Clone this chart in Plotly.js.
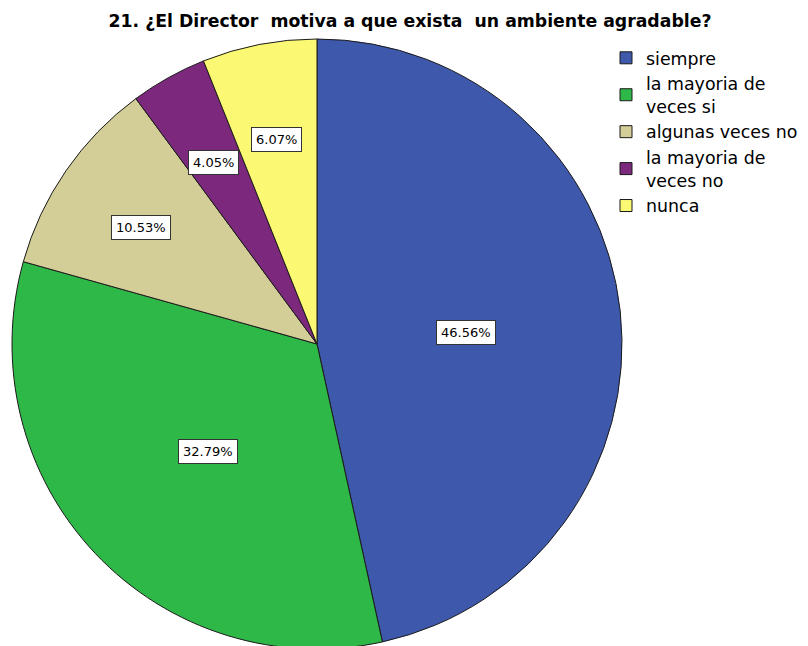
<!DOCTYPE html>
<html>
<head>
<meta charset="utf-8">
<script src="https://cdn.plot.ly/plotly-3.0.1.min.js"></script>
<style>html,body{margin:0;padding:0;overflow:hidden;background:#fff}</style>
</head>
<body>
<div id="chart"></div>
<script>
const categories = ["siempre", "la mayoria de<br>veces si", "algunas veces no", "la mayoria de<br>veces no", "nunca"];
const values = [46.56, 32.79, 10.53, 4.05, 6.07];
const valueLabels = ["46.56%", "32.79%", "10.53%", "4.05%", "6.07%"];
const colors = ["#3e58ac", "#2eb848", "#d3ce97", "#7c287d", "#fbf873"];

const W = 808, H = 652;
const cx = 317, cy = 344, R = 305;
const FONT = "DejaVu Sans, Arial, sans-serif";

const total = values.reduce((a, b) => a + b, 0);
const annotations = [];
let cum = 0;
values.forEach((v, i) => {
  const mid = (cum + v / 2) / total * 2 * Math.PI;
  cum += v;
  const rf = v >= 20 ? 0.49 : 0.70;
  const px = cx + rf * R * Math.sin(mid);
  const py = cy - rf * R * Math.cos(mid) + 5;
  annotations.push({
    xref: "paper", yref: "paper",
    x: px / W, y: 1 - py / H,
    xanchor: "center", yanchor: "middle",
    text: valueLabels[i], showarrow: false,
    font: {family: FONT, size: 13, color: "#000"},
    bgcolor: "#ffffff", bordercolor: "#333333", borderwidth: 1, borderpad: 4
  });
});

const trace = {
  type: "pie",
  labels: categories,
  values: values,
  sort: false,
  direction: "clockwise",
  rotation: 0,
  textinfo: "none",
  hoverinfo: "none",
  marker: {colors: colors, line: {color: "#1a1a1a", width: 1}},
  domain: {x: [(cx - R) / W, (cx + R) / W], y: [1 - (cy + R) / H, 1 - (cy - R) / H]}
};

const layout = {
  width: W, height: H,
  margin: {l: 0, r: 0, t: 0, b: 0},
  paper_bgcolor: "#fff",
  title: {
    text: "<b>21. ¿El Director  motiva a que exista  un ambiente agradable?</b>",
    x: 410 / W, xanchor: "center", y: 1 - 21 / H, yanchor: "middle",
    xref: "paper", yref: "container",
    font: {family: FONT, size: 17.3, color: "#000"}
  },
  showlegend: true,
  legend: {
    x: 606 / W, xanchor: "left", y: 1 - 40 / H, yanchor: "top",
    font: {family: FONT, size: 17.4, color: "#000"},
    bgcolor: "rgba(0,0,0,0)", traceorder: "normal"
  },
  annotations: annotations
};

Plotly.newPlot("chart", [trace], layout, {displayModeBar: false, staticPlot: true});
</script>
</body>
</html>
